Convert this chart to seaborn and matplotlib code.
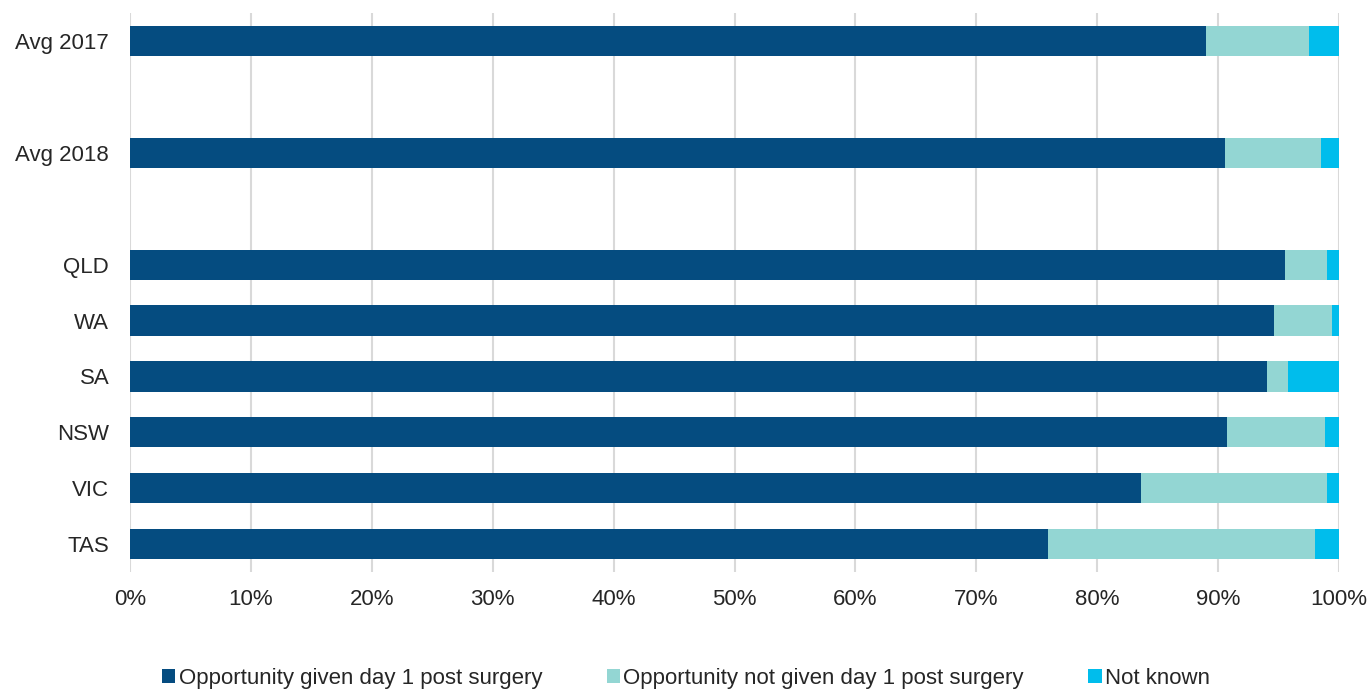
import matplotlib
matplotlib.use("Agg")
import matplotlib.pyplot as plt
import seaborn as sns
import pandas as pd

# Data (percent of patients)
groups = ["Avg 2017", "Avg 2018", "QLD", "WA", "SA", "NSW", "VIC", "TAS"]
given = [89.0, 90.6, 95.5, 94.6, 94.0, 90.7, 83.6, 75.9]
not_given = [8.5, 7.9, 3.5, 4.8, 1.8, 8.1, 15.4, 22.1]
not_known = [2.5, 1.5, 1.0, 0.6, 4.2, 1.2, 1.0, 2.0]
series_names = ["Opportunity given day 1 post surgery",
                "Opportunity not given day 1 post surgery",
                "Not known"]
colors = ["#054C80", "#93D6D3", "#00BDEC"]
xtick_labels = ["0%", "10%", "20%", "30%", "40%", "50%", "60%", "70%", "80%", "90%", "100%"]

# blank slots between the averages and the states
order = ["Avg 2017", " ", "Avg 2018", "  ", "QLD", "WA", "SA", "NSW", "VIC", "TAS"]

df = pd.DataFrame({"group": groups, "given": given,
                   "not_given": not_given, "not_known": not_known})
df["c1"] = df["given"]
df["c2"] = df["given"] + df["not_given"]
df["c3"] = df["c2"] + df["not_known"]

sns.set_theme(style="white")
plt.rcParams["font.family"] = ["Liberation Sans", "DejaVu Sans"]

fig = plt.figure(figsize=(13.72, 6.91), dpi=100)
ax = fig.add_axes([0.0948, 0.172, 0.8812, 0.809])

# stacked bars: draw cumulative totals back to front
for col, color, name in [("c3", colors[2], series_names[2]),
                         ("c2", colors[1], series_names[1]),
                         ("c1", colors[0], series_names[0])]:
    sns.barplot(data=df, x=col, y="group", order=order, orient="h",
                color=color, width=0.54, saturation=1, errorbar=None,
                label=name, ax=ax, zorder=3, linewidth=0)

ax.set_xlim(0, 100)
ax.set_ylim(9.5, -0.5)
ax.set_xticks(range(0, 101, 10))
ax.set_xticklabels(xtick_labels)
ax.set_xlabel("")
ax.set_ylabel("")
ax.grid(axis="x", color="#D9D9D9", linewidth=1.5, zorder=0)
ax.set_axisbelow(True)
for s in ax.spines.values():
    s.set_visible(False)
ax.tick_params(axis="both", length=0, labelsize=16, labelcolor="#262626")
ax.tick_params(axis="x", pad=12)
ax.tick_params(axis="y", pad=15)

handles, labels = ax.get_legend_handles_labels()
handles, labels = handles[::-1], labels[::-1]
if ax.get_legend():
    ax.get_legend().remove()
fig.legend(handles, labels, loc="lower center", bbox_to_anchor=(0.5, -0.026),
           ncol=3, frameon=False, fontsize=16, handlelength=0.6,
           handleheight=0.6, handletextpad=0.15, columnspacing=2.9,
           labelcolor="#262626")

fig.savefig("out.png", dpi=100)
